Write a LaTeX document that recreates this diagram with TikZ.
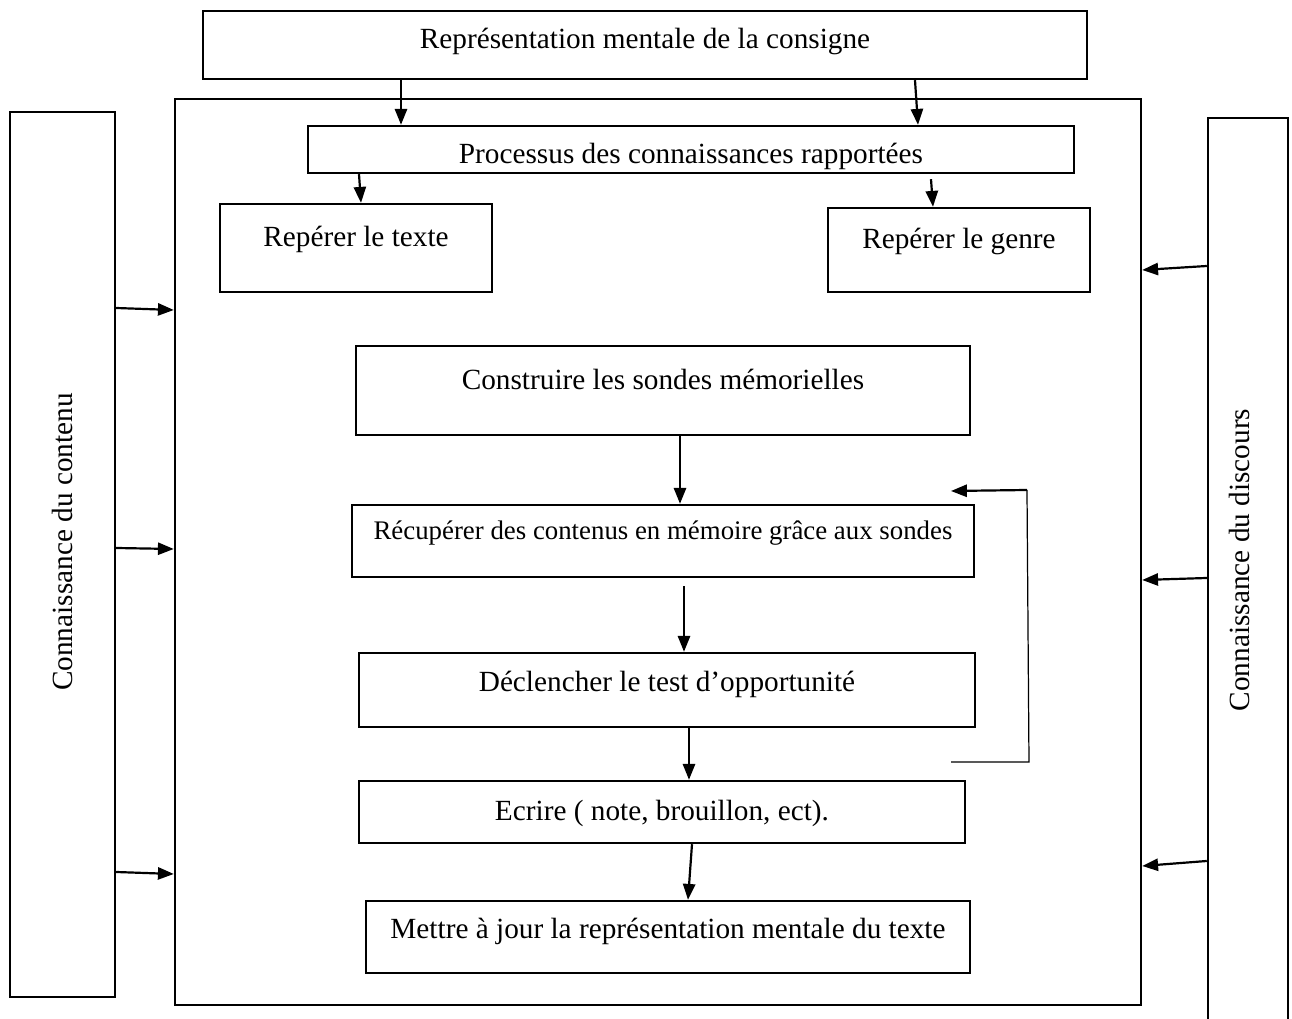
\documentclass[tikz,border=0pt]{standalone}
\usepackage{fontspec}
\setmainfont{Liberation Serif}
\usetikzlibrary{arrows.meta}

\newcommand{\px}{0.41pt}

\begin{document}
\begin{tikzpicture}[
    x=\px, y=-\px,
    every node/.style={inner sep=0pt},
    boite/.style={draw, line width=1pt, font=\fontsize{12}{14}\selectfont, text height=8pt},
    cote/.style={draw, line width=1pt, font=\fontsize{12}{14}\selectfont},
    fleche/.style={line width=0.9pt, -{Triangle[length=6.5pt,width=5pt]}}
]
\useasboundingbox (0,0) rectangle (1292,1019);

% Outer frame and top box
\node[boite, minimum width=966*\px, minimum height=906*\px] (cadre) at (658,552) {};
\node[boite, minimum width=884*\px, minimum height=68*\px, text depth=5pt] (consigne) at (645,45) {Représentation mentale de la consigne};

% Side boxes
\node[cote, minimum width=105*\px, minimum height=885*\px, text depth=10.2pt] (gauche) at (62.5,554.5) {\rotatebox{90}{Connaissance du contenu}};
\node[cote, minimum width=80*\px, minimum height=912*\px, text depth=11.5pt] (droite) at (1248,574) {\rotatebox{90}{Connaissance du discours}\hspace*{6.6pt}};

% Steps inside the frame
\node[boite, minimum width=766*\px, minimum height=47*\px, text height=11.6pt, text depth=0pt] (processus) at (691,149.5) {Processus des connaissances rapportées};
\node[boite, minimum width=272*\px, minimum height=88*\px, text depth=9.2pt] (texte) at (356,248) {Repérer le texte};
\node[boite, minimum width=262*\px, minimum height=84*\px, text depth=9.2pt] (genre) at (959,250) {Repérer le genre};
\node[boite, minimum width=614*\px, minimum height=89*\px, text depth=8.8pt] (construire) at (663,390.5) {Construire les sondes mémorielles};
\node[boite, minimum width=622*\px, minimum height=72*\px, text depth=9pt, font=\fontsize{11}{13}\selectfont] (recuperer) at (663,541) {Récupérer des contenus en mémoire grâce aux sondes};
\node[boite, minimum width=616*\px, minimum height=74*\px, text depth=6.8pt] (declencher) at (667,690) {Déclencher le test d’opportunité};
\node[boite, minimum width=606*\px, minimum height=62*\px, text depth=1pt] (ecrire) at (662,812) {Ecrire ( note, brouillon, ect).};
\node[boite, minimum width=604*\px, minimum height=72*\px, text depth=6.8pt] (mettre) at (668,937) {Mettre à jour la représentation mentale du texte};

% Vertical arrows
\draw[fleche] (consigne.south -| 401,0) -- (processus.north -| 401,0);
\draw[fleche] (consigne.south -| 915,0) -- (processus.north -| 918,0);
\draw[fleche] (processus.south -| 359,0) -- (texte.north -| 361,0);
\draw[fleche] (processus.south -| 931,0) ++(0,5) -- (genre.north -| 933,0);
\draw[fleche] (construire.south -| 680,0) -- (recuperer.north -| 680,0);
\draw[fleche] (recuperer.south -| 684,0) ++(0,8) -- (declencher.north -| 684,0);
\draw[fleche] (declencher.south -| 689,0) -- (ecrire.north -| 689,0);
\draw[fleche] (ecrire.south -| 692,0) -- (mettre.north -| 688,0);

% Side arrows
\foreach \ya/\yb in {308/310, 548/549, 872/874}
    \draw[fleche] (gauche.east |- 0,\ya) -- (cadre.west |- 0,\yb);
\foreach \ya/\yb in {266/270, 578/580, 861/866}
    \draw[fleche] (droite.west |- 0,\ya) -- (cadre.east |- 0,\yb);

% Feedback loop
\coordinate (retour-depart) at (951,762);
\coordinate (retour-coin) at (1029,762);
\coordinate (retour-haut) at (1027,490);
\coordinate (retour-fin) at (951,491);
\draw[line width=0.5pt] (retour-depart) -- (retour-coin) -- (retour-haut);
\draw[fleche] (retour-haut) -- (retour-fin);

\end{tikzpicture}
\end{document}
